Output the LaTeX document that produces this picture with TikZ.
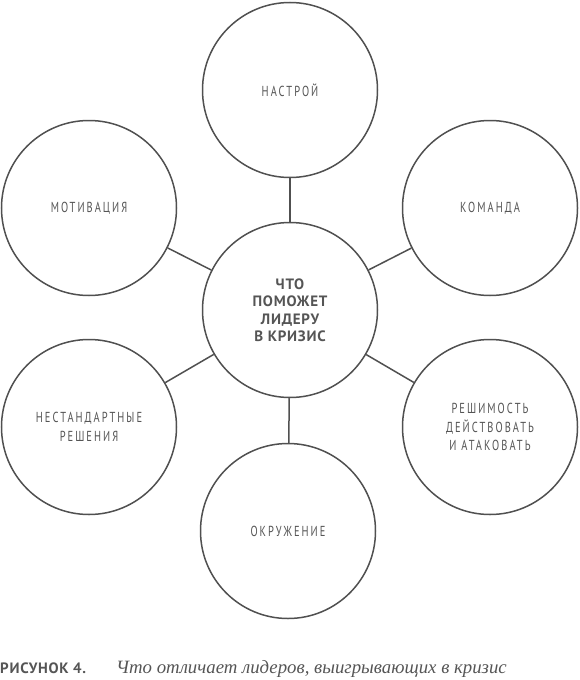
\documentclass[tikz,border=0pt]{standalone}
\usepackage{fontspec}
\setmainfont{PT Sans}
\newfontfamily\labelfont[FakeStretch=0.72,LetterSpace=14]{PT Sans}
\newfontfamily\hubfont[LetterSpace=5]{PT Sans}
\newfontfamily\capfont{Liberation Serif}
\definecolor{ink}{HTML}{555555}
\definecolor{rim}{HTML}{505050}

\begin{document}
\begin{tikzpicture}[x=1pt,y=-1pt,
topic/.style={circle, draw=rim, line width=1.5pt, minimum size=175pt, inner sep=0pt, align=center, text=ink, font=\labelfont\fontsize{14.5}{18.5}\selectfont},
hub/.style={circle, draw=rim, line width=1.5pt, minimum size=175pt, inner sep=0pt, align=center, text=ink, font=\hubfont\bfseries\fontsize{15}{17.5}\selectfont},
link/.style={draw=rim, line width=1.5pt}
]
\useasboundingbox (0,0) rectangle (579,680);

\node[hub](crisis) at (290,310){ЧТО\\ПОМОЖЕТ\\ЛИДЕРУ\\В КРИЗИС};

\node[topic](mood) at (290,90){НАСТРОЙ};
\node[topic](motive) at (89,208){МОТИВАЦИЯ};
\node[topic](team) at (490,208){КОМАНДА};
\node[topic](novel) at (89,427){НЕСТАНДАРТНЫЕ\\РЕШЕНИЯ};
\node[topic](resolve) at (490,427){РЕШИМОСТЬ\\ДЕЙСТВОВАТЬ\\И АТАКОВАТЬ};
\node[topic](circle) at (288,531){ОКРУЖЕНИЕ};

\draw[link] (crisis) -- (mood);
\draw[link] (crisis) -- (motive);
\draw[link] (crisis) -- (team);
\draw[link] (crisis) -- (novel);
\draw[link] (crisis) -- (resolve);
\draw[link] (crisis) -- (circle);

% caption
\node[anchor=base west, inner sep=0pt, text=ink, font=\hubfont\bfseries\fontsize{15}{17}\selectfont](figno) at (0,673){РИСУНОК 4.};
\node[anchor=base west, inner sep=0pt, text=ink, font=\capfont\itshape\fontsize{18.8}{21}\selectfont](figtext) at (116,673){Что отличает лидеров, выигрывающих в кризис};
\end{tikzpicture}
\end{document}
